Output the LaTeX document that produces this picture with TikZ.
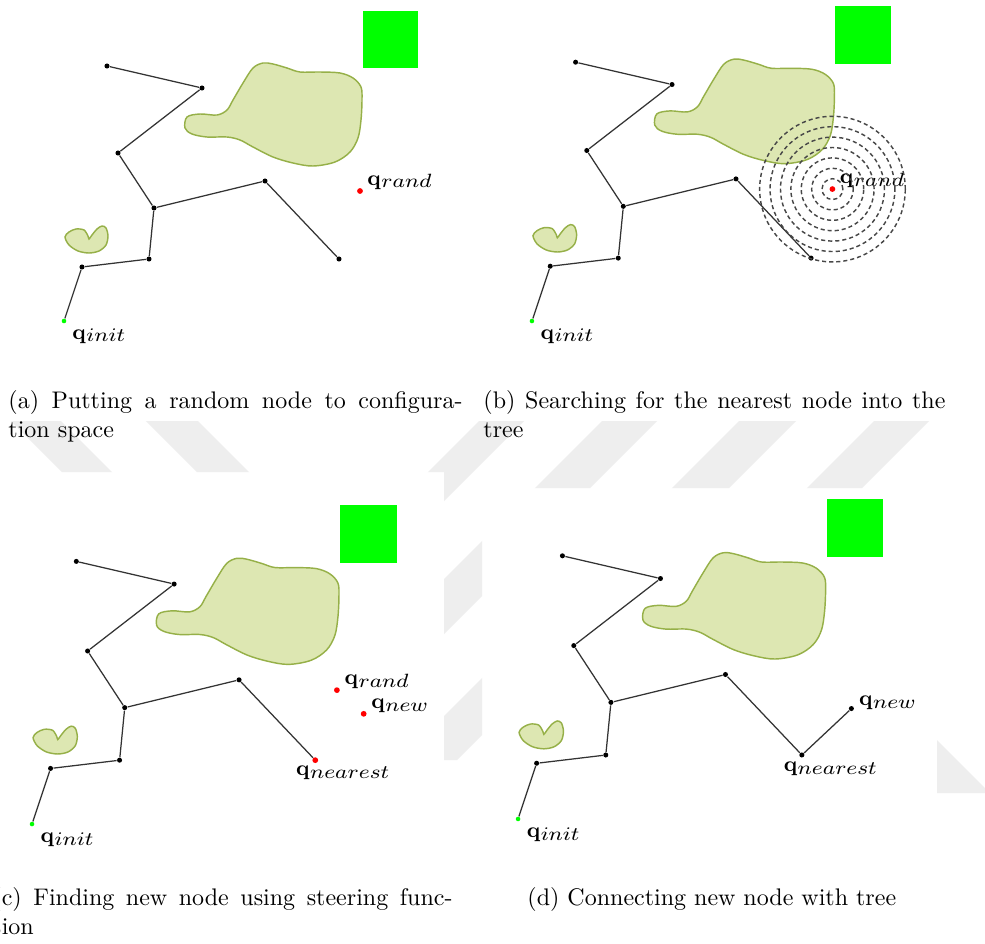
\documentclass[tikz,border=0pt]{standalone}
\usepackage{graphicx}

\definecolor{blobfill}{RGB}{221,231,178}
\definecolor{blobline}{RGB}{150,176,72}
\definecolor{goalgreen}{RGB}{0,255,0}
\definecolor{wmgray}{RGB}{238,238,238}

% configuration label: bold q with a wide italic subscript
\newcommand\qlab[1]{{\fontsize{9}{10}\selectfont$\mathbf{q}$}\kern0.2pt\raisebox{-1.1pt}{\scalebox{1.15}[1]{\fontsize{8}{9}\selectfont$#1$}}}

% obstacles and goal region of the workspace
\newcommand\workspace{%
  \fill[goalgreen] (363,11) rectangle (418,67.5);
  \draw[obst] plot[smooth cycle, tension=0.55] coordinates {
    (187,117) (200,114) (217,115) (227,110) (233,100) (243,83) (253,68)
    (263,63) (273,64) (287,68) (300,72) (320,72) (340,73) (353,78)
    (361,87) (362,100) (361,120) (358,138) (350,152) (335,162) (313,166)
    (293,163) (273,157) (253,147) (240,140) (227,137) (207,137) (192,134)
    (185,128)};
  \draw[obst] plot[smooth cycle, tension=0.5] coordinates {
    (65,237) (69,232) (76,229) (84,230) (88,236) (89,239) (92,235)
    (97,229) (102,226) (106,228) (108,236) (106,245) (99,251) (89,253)
    (78,251) (69,245)};
}

% tree vertices: #1 = prefix, #2 = style of the leaf nearest to q_rand
\newcommand\treenodes[2]{%
  \node[initpt] (#1-0) at (64,321) {};
  \node[treept] (#1-1) at (107,66) {};
  \node[treept] (#1-2) at (202,88) {};
  \node[treept] (#1-3) at (118,153) {};
  \node[treept] (#1-4) at (154,208) {};
  \node[treept] (#1-5) at (265,181) {};
  \node[#2]     (#1-6) at (339,259) {};
  \node[treept] (#1-7) at (149,259) {};
  \node[treept] (#1-8) at (82,267) {};
  \draw[edge] (#1-1) -- (#1-2) -- (#1-3) -- (#1-4) -- (#1-5) -- (#1-6);
  \draw[edge] (#1-4) -- (#1-7) -- (#1-8) -- (#1-0);
  \node[qlabel] (#1-linit) at (72,339) {\qlab{init}};
}

\begin{document}
\begin{tikzpicture}[x=0.41667pt, y=-0.41667pt,
  treept/.style={circle, fill=black, inner sep=0pt, minimum size=2.1pt},
  initpt/.style={circle, fill=goalgreen, inner sep=0pt, minimum size=1.9pt},
  redpt/.style={circle, fill=red, inner sep=0pt, minimum size=2.4pt},
  edge/.style={draw=black!80, line width=0.52pt},
  obst/.style={fill=blobfill, draw=blobline, line width=0.6pt},
  qlabel/.style={inner sep=0pt, anchor=base west},
  captext/.style={inner sep=0pt, anchor=base west, font=\fontsize{10}{12}\selectfont},
  probe/.style={draw=black!72, line width=0.6pt, dash pattern=on 1.7pt off 1.25pt},
  wmark/.style={fill=wmgray}]

\useasboundingbox[fill=white] (0,0) rectangle (985,944);

% faint background stripes between the panels
\begin{scope}
  \clip (0,421) rectangle (444,472) (444,421) rectangle (985,488)
        (444,488) rectangle (482,760) (937,488) rectangle (985,793);
  \foreach \a/\b in {900/945,1023/1078,1160/1217,1295/1350}
    \fill[wmark] (\a-380,380) -- (\b-380,380) -- (\b-800,800) -- (\a-800,800) -- cycle;
  \foreach \a/\b in {-410/-360,-275/-223}
    \fill[wmark] (\a+400,400) -- (\b+400,400) -- (\b+500,500) -- (\a+500,500) -- cycle;
  \fill[wmark] (844,700) -- (897,700) -- (1047,850) -- (994,850) -- cycle;
\end{scope}

% (a) random sample
\begin{scope}
  \workspace
  \treenodes{a}{treept}
  \node[redpt] (a-rand) at (360,191) {};
  \node[qlabel] (a-lrand) at (367,185) {\qlab{rand}};
\end{scope}

% (b) nearest-neighbour search around the sample
\begin{scope}[shift={(467,-4.8)}, scale=1.015]
  \workspace
  \treenodes{b}{treept}
  \node[redpt] (b-rand) at (360,191) {};
  \node[qlabel] (b-lrand) at (367,186) {\qlab{rand}};
  \foreach \k in {1,...,7}
    \draw[probe] (b-rand.center) circle[radius={4.27pt*\k}];
\end{scope}

% (c) steering towards the sample
\begin{scope}[shift={(-33.9,493.4)}, scale=1.03]
  \workspace
  \treenodes{c}{redpt}
  \node[redpt] (c-rand) at (360,191) {};
  \node[redpt] (c-new) at (386,214) {};
  \node[qlabel] (c-lrand) at (367,186) {\qlab{rand}};
  \node[qlabel] (c-lnew) at (393,209) {\qlab{new}};
  \node[qlabel] (c-lnear) at (320,274) {\qlab{nearest}};
\end{scope}

% (d) new vertex joined to the tree
\begin{scope}[shift={(452,487.7)}, scale=1.032]
  \workspace
  \treenodes{d}{treept}
  \node[treept] (d-new) at (387,214) {};
  \draw[edge] (d-6) -- (d-new);
  \node[qlabel] (d-lnew) at (394,211) {\qlab{new}};
  \node[qlabel] (d-lnear) at (321,275) {\qlab{nearest}};
\end{scope}

% sub-captions
\node[captext] (capa1) at (8,408) {\makebox[189.2pt][s]{(a) Putting a random node to configura-}};
\node[captext] (capa2) at (8,437) {tion space};
\node[captext] (capb1) at (483,408) {\makebox[192.5pt][s]{(b) Searching for the nearest node into the}};
\node[captext] (capb2) at (483,437) {tree};
\node[captext] (capc1) at (-8,905) {\makebox[191.7pt][s]{(c) Finding new node using steering func-}};
\node[captext] (capc2) at (-8,934) {tion};
\node[captext] (capd1) at (527,905) {(d) Connecting new node with tree};
\end{tikzpicture}
\end{document}
